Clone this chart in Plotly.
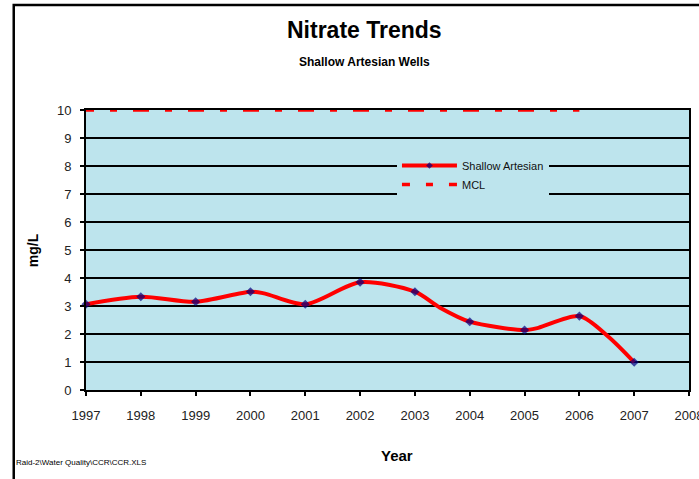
import plotly.graph_objects as go

# ---- data ----
years = [1997, 1998, 1999, 2000, 2001, 2002, 2003, 2004, 2005, 2006, 2007]
nitrate = [3.06, 3.33, 3.15, 3.51, 3.06, 3.85, 3.51, 2.44, 2.14, 2.64, 0.99]

# unmarked sample points on the smoothed line
extra_years = [2000.25, 2003.45, 2005.25, 2006.53]
extra_vals = [3.45, 2.95, 2.22, 1.90]

mcl_years = [1997, 1998, 1999, 2000, 2001, 2002, 2003, 2004, 2005, 2006]
mcl_vals = [10, 10, 10, 10, 10, 10, 10, 10, 10, 10]

x_ticks = list(range(1997, 2009))
y_ticks = list(range(0, 11))

# combine marked + unmarked points for the smoothed line
pts = sorted([(x, y, 7) for x, y in zip(years, nitrate)] +
             [(x, y, 0) for x, y in zip(extra_years, extra_vals)])
line_x = [p[0] for p in pts]
line_y = [p[1] for p in pts]
msize = [p[2] for p in pts]

FONT = "Liberation Sans, Arial, sans-serif"
BG = "#bde4ed"

fig = go.Figure()

fig.add_trace(go.Scatter(
    x=line_x, y=line_y, name="Shallow Artesian",
    mode="lines+markers",
    line=dict(color="#ff0000", width=4, shape="spline", smoothing=0.8),
    marker=dict(symbol="diamond", color="#000080", size=msize, line=dict(width=0)),
    cliponaxis=False,
))

fig.add_trace(go.Scatter(
    x=mcl_years, y=mcl_vals, name="MCL",
    mode="lines",
    line=dict(color="#ff0000", width=3.5, dash="8px,16px,7px,16px,8px,0px"),
    cliponaxis=False,
))

# figure is a little wider than the 699px window so the last year label is cut by the window edge
W, H = 715, 479
L, T, B = 86, 110, 89
pw = 605
R = W - L - pw
ph = H - T - B

def px(xp):
    return (xp - L) / pw

def py(yp):
    return (H - B - yp) / ph

def ann(text, x, y, size, xanchor="center", **kw):
    return dict(text=text, x=px(x), y=py(y), xref="paper", yref="paper",
                xanchor=xanchor, yanchor="middle", showarrow=False,
                font=dict(size=size, color="black", family=FONT), **kw)

fig.update_layout(
    width=W, height=H,
    margin=dict(l=L, r=R, t=T, b=B, pad=0),
    paper_bgcolor="white",
    plot_bgcolor=BG,
    font=dict(family=FONT, color="#222222"),
    showlegend=True,
    legend=dict(
        x=px(398), y=py(151), xanchor="left", yanchor="top",
        bgcolor=BG, borderwidth=0,
        font=dict(size=11, color="#111111", family=FONT),
        tracegroupgap=0, itemwidth=55,
    ),
    xaxis=dict(
        range=[1997, 2008], tickmode="array", tickvals=x_ticks,
        ticktext=[str(v) for v in x_ticks],
        ticks="outside", ticklen=4, tickwidth=1.5, tickcolor="black",
        showline=True, linecolor="black", linewidth=2, mirror=True,
        showgrid=False, zeroline=False,
        tickfont=dict(size=13, color="#222222"),
        ticklabelstandoff=8,
    ),
    yaxis=dict(
        range=[0, 10], tickmode="array", tickvals=y_ticks,
        ticks="outside", ticklen=4, tickwidth=1.5, tickcolor="black",
        showline=True, linecolor="black", linewidth=2, mirror=True,
        showgrid=True, gridcolor="black", gridwidth=1.5, zeroline=False,
        tickfont=dict(size=13, color="#222222"),
        ticklabelstandoff=6,
    ),
    annotations=[
        ann("<b>Nitrate Trends</b>", 365, 30, 23),
        ann("<b>Shallow Artesian Wells</b>", 365, 62, 12),
        ann("<b>Year</b>", 398, 455, 15),
        ann("<b>mg/L</b>", 33, 250, 14, textangle=-90),
        ann("Raid-2\\Water Quality\\CCR\\CCR.XLS", 14, 462, 8, xanchor="left"),
    ],
    shapes=[
        dict(type="rect", xref="paper", yref="paper",
             x0=px(13.5), x1=px(760), y0=py(520), y1=py(5),
             line=dict(color="black", width=2.5), layer="below"),
    ],
)

fig.write_html("out.html", config={"displayModeBar": False},
               post_script="document.body.style.margin='0px';document.body.style.overflow='hidden';")
